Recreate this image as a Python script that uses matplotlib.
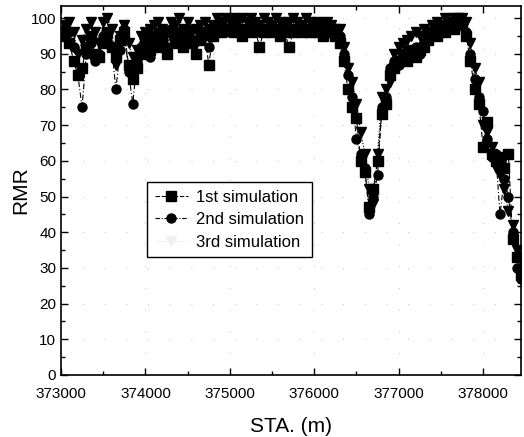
import matplotlib
matplotlib.use("Agg")
import matplotlib.pyplot as plt
from matplotlib.lines import Line2D
from matplotlib.ticker import MultipleLocator

plt.rcParams['font.family'] = ['Liberation Sans', 'DejaVu Sans']

sta = [373050, 373100, 373150, 373200, 373250, 373300, 373350, 373400, 373450, 373500,
       373550, 373600, 373650, 373700, 373750, 373800, 373850, 373900, 373950, 374000,
       374050, 374100, 374150, 374200, 374250, 374300, 374350, 374400, 374450, 374500,
       374550, 374600, 374650, 374700, 374750, 374800, 374850, 374900, 374950, 375000,
       375050, 375100, 375150, 375200, 375250, 375300, 375350, 375400, 375450, 375500,
       375550, 375600, 375650, 375700, 375750, 375800, 375850, 375900, 375950, 376000,
       376050, 376100, 376150, 376200, 376250, 376300, 376350, 376400, 376450, 376500,
       376550, 376600, 376650, 376700, 376750, 376800, 376850, 376900, 376950, 377000,
       377050, 377100, 377150, 377200, 377250, 377300, 377350, 377400, 377450, 377500,
       377550, 377600, 377650, 377700, 377750, 377800, 377850, 377900, 377950, 378000,
       378050, 378100, 378150, 378200, 378250, 378300, 378350, 378400, 378450]

sim1 = [95, 93, 88, 84, 86, 92, 95, 90, 89, 93,
        96, 92, 89, 94, 96, 87, 83, 86, 90, 93,
        91, 95, 92, 94, 90, 96, 93, 96, 92, 95,
        93, 90, 94, 96, 87, 95, 97, 96, 97, 97,
        96, 97, 95, 97, 96, 97, 92, 96, 97, 96,
        97, 95, 96, 92, 96, 97, 96, 97, 96, 97,
        96, 95, 96, 97, 95, 93, 88, 80, 75, 72,
        60, 57, 47, 52, 60, 73, 76, 84, 86, 88,
        90, 88, 91, 89, 91, 92, 94, 96, 95, 97,
        96, 98, 97, 99, 98, 95, 88, 80, 76, 64,
        71, 62, 60, 61, 58, 62, 38, 33, 28]

sim2 = [97, 96, 92, 84, 75, 90, 93, 88, 90, 95,
        94, 92, 80, 91, 97, 85, 76, 88, 92, 95,
        89, 93, 96, 95, 92, 97, 95, 94, 95, 97,
        93, 94, 96, 95, 92, 97, 96, 98, 96, 97,
        98, 97, 97, 96, 98, 97, 96, 97, 96, 97,
        96, 97, 96, 96, 97, 96, 97, 97, 97, 98,
        97, 96, 97, 97, 96, 95, 90, 84, 78, 66,
        62, 58, 45, 50, 56, 75, 78, 86, 88, 87,
        89, 91, 90, 92, 90, 93, 95, 95, 97, 96,
        98, 97, 98, 98, 99, 96, 90, 83, 78, 74,
        66, 61, 62, 45, 55, 50, 40, 30, 27]

sim3 = [98, 99, 96, 90, 94, 97, 99, 96, 93, 99,
        100, 97, 87, 95, 98, 93, 89, 91, 95, 96,
        97, 98, 99, 97, 96, 99, 98, 100, 97, 99,
        96, 97, 98, 99, 97, 98, 100, 99, 100, 99,
        100, 99, 100, 99, 100, 99, 98, 100, 99, 98,
        100, 99, 98, 99, 100, 99, 98, 100, 99, 98,
        99, 98, 99, 98, 97, 97, 92, 86, 82, 76,
        68, 62, 52, 48, 62, 78, 80, 82, 90, 92,
        93, 94, 95, 96, 95, 97, 96, 98, 99, 98,
        100, 99, 100, 100, 100, 99, 93, 86, 82, 70,
        68, 64, 58, 56, 52, 46, 42, 35, 32]

labels = ['1st simulation', '2nd simulation', '3rd simulation']

fig = plt.figure(figsize=(5.24, 4.37), dpi=100)
ax = fig.add_axes([0.1164, 0.1419, 0.878, 0.8444])

ms = 6.5
ax.plot(sta, sim1, linestyle=(0, (5, 2)), color='black', linewidth=0.8,
        marker='s', markersize=ms, markerfacecolor='black', markeredgecolor='black')
ax.plot(sta, sim2, linestyle=(0, (5, 2, 1, 2)), color='black', linewidth=0.8,
        marker='o', markersize=ms, markerfacecolor='black', markeredgecolor='black')
ax.plot(sta, sim3, linestyle=(0, (1, 1.5)), color='black', linewidth=0.8,
        marker='v', markersize=ms, markerfacecolor='black', markeredgecolor='black')

ax.set_xlim(373000, 378450)
ax.set_ylim(0, 103.4)
ax.xaxis.set_major_locator(MultipleLocator(1000))
ax.xaxis.set_minor_locator(MultipleLocator(500))
ax.yaxis.set_major_locator(MultipleLocator(10))
ax.yaxis.set_minor_locator(MultipleLocator(5))
ax.tick_params(which='both', direction='in', top=True, right=True, labelsize=11, width=1)
ax.tick_params(which='major', length=5)
ax.tick_params(which='minor', length=3)
ax.tick_params(axis='x', which='major', pad=9)
for s in ax.spines.values():
    s.set_linewidth(1.2)

ax.grid(True, which='major', linestyle=(0, (1, 25)), color='#aaaaaa', linewidth=0.6)
ax.set_axisbelow(True)

ax.set_xlabel('STA. (m)', fontsize=15, labelpad=11)
ax.set_ylabel('RMR', fontsize=15, labelpad=0)

handles = [
    Line2D([], [], linestyle=(0, (4, 1.5)), color='black', linewidth=0.8, marker='s',
           markersize=6.5, markerfacecolor='black'),
    Line2D([], [], linestyle=(0, (4, 1.5, 1, 1.5)), color='black', linewidth=0.8, marker='o',
           markersize=6.5, markerfacecolor='black'),
    Line2D([], [], linestyle=(0, (1, 1.5)), color='#e6e6e6', linewidth=0.8, marker='v',
           markersize=6.5, markerfacecolor='#f0f0f0', markeredgecolor='#f0f0f0'),
]
leg = ax.legend(handles, labels, loc='upper left', bbox_to_anchor=(0.187, 0.523),
                frameon=True, fancybox=False, edgecolor='black', framealpha=1,
                borderaxespad=0, fontsize=12, handlelength=2.0, handletextpad=0.5,
                labelspacing=0.45, borderpad=0.45)
leg.get_frame().set_linewidth(1.0)

fig.savefig('out.png', dpi=100)
